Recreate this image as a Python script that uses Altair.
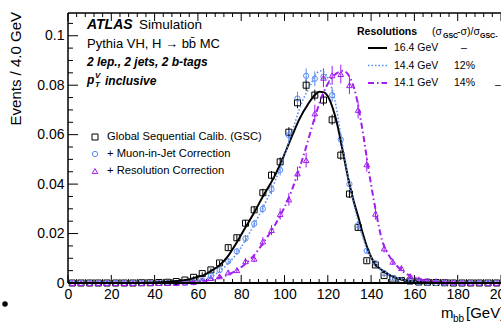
import altair as alt
import pandas as pd

FONT = "Liberation Sans"
X0, Y0 = 68, 13          # plot origin in page pixels
W, H = 433, 270
XMAX = 200
YMAX = 0.1092

BLACK = "#000000"
BLUE = "#5a8cf0"
PURPLE = "#a01ef0"

# ---------------- data ----------------
bins = [2, 6, 10, 14, 18, 22, 26, 30, 34, 38, 42, 46, 50, 54, 58, 62, 66, 70, 74, 78,
        82, 86, 90, 94, 98, 102, 106, 110, 114, 118, 122, 126, 130, 134, 138, 142, 146,
        150, 154, 158, 162, 166, 170, 174, 178, 182, 186, 190, 194, 198]

gsc = [0, 0, 0, 0, 0, 0, 0, 0,
       0.0001, 0.0001, 0.0002, 0.0003, 0.0006, 0.0012, 0.0023, 0.0038, 0.0053, 0.0081,
       0.0143, 0.0183, 0.0242, 0.0296, 0.0365, 0.0436, 0.0490, 0.0610, 0.0729, 0.0800,
       0.0760, 0.0740, 0.0660, 0.0517, 0.0360, 0.0225, 0.0090, 0.0073, 0.0030, 0.0016,
       0.0010, 0.0008, 0.0004, 0.0003, 0.0002, 0.0001,
       0, 0, 0, 0, 0, 0]
gsc_err = [0, 0, 0, 0, 0, 0, 0, 0, 0, 0, 0, 0,
           0.0002, 0.0003, 0.0004, 0.0005, 0.0006, 0.0008, 0.0010, 0.0011, 0.0013, 0.0014,
           0.0016, 0.0017, 0.0018, 0.0020, 0.0022, 0.0023, 0.0022, 0.0022, 0.0021, 0.0019,
           0.0016, 0.0012, 0.0008, 0.0007, 0.0004, 0.0003, 0.0002, 0.0002,
           0, 0, 0, 0, 0, 0, 0, 0, 0, 0]

muon = [0, 0, 0, 0, 0, 0, 0, 0, 0, 0, 0, 0, 0,
        0.0001, 0.0003, 0.0010, 0.0028, 0.0052, 0.0088, 0.0128, 0.0180, 0.0240, 0.0300,
        0.0379, 0.0457, 0.0598, 0.0746, 0.0838, 0.0826, 0.0835, 0.0760, 0.0580, 0.0400,
        0.0234, 0.0130, 0.0080, 0.0040, 0.0020, 0.0010, 0.0005, 0.0003, 0.0001,
        0, 0, 0, 0, 0, 0, 0, 0]
muon_err = [0, 0, 0, 0, 0, 0, 0, 0, 0, 0, 0, 0, 0,
            0.0001, 0.0002, 0.0004, 0.0006, 0.0008, 0.0010, 0.0012, 0.0014, 0.0016, 0.0018,
            0.0020, 0.0022, 0.0025, 0.0028, 0.0030, 0.0030, 0.0030, 0.0028, 0.0025, 0.0020,
            0.0016, 0.0012, 0.0009, 0.0006, 0.0004, 0.0003, 0.0002, 0.0001, 0.0001,
            0, 0, 0, 0, 0, 0, 0, 0]

reso = [0, 0, 0, 0, 0, 0, 0, 0, 0, 0, 0, 0, 0,
        0.0002, 0.0004, 0.0010, 0.0020, 0.0027, 0.0043, 0.0052, 0.0088, 0.0098, 0.0168,
        0.0214, 0.0279, 0.0338, 0.0443, 0.0497, 0.0686, 0.0830, 0.0840, 0.0845, 0.0800,
        0.0700, 0.0480, 0.0280, 0.0140, 0.0086, 0.0060, 0.0028, 0.0015, 0.0010, 0.0008,
        0.0005, 0.0003, 0.0002, 0.0001, 0.0001,
        0, 0]
reso_err = [0, 0, 0, 0, 0, 0, 0, 0, 0, 0, 0, 0, 0,
            0.0002, 0.0003, 0.0004, 0.0006, 0.0007, 0.0009, 0.0010, 0.0013, 0.0014, 0.0018,
            0.0020, 0.0023, 0.0025, 0.0028, 0.0030, 0.0035, 0.0038, 0.0038, 0.0038, 0.0036,
            0.0034, 0.0030, 0.0024, 0.0017, 0.0013, 0.0011, 0.0008, 0.0006, 0.0005, 0.0004,
            0.0003, 0.0002, 0.0002, 0.0001, 0.0001,
            0, 0]

# fitted curves
gsc_fit_x = [30, 40, 46, 50, 55, 60, 63, 66, 70, 74, 78, 82, 86, 90, 95, 99, 103, 107, 111,
             114, 116, 118, 120, 122, 124, 127, 130, 132, 134, 136, 138, 140, 142, 145, 148,
             151, 155, 160, 165, 170, 180]
gsc_fit_y = [0, 0.0002, 0.0005, 0.0008, 0.0013, 0.0025, 0.0033, 0.0048, 0.0072, 0.0110,
             0.0165, 0.0225, 0.0285, 0.0350, 0.0425, 0.0500, 0.0585, 0.0665, 0.0725, 0.0760,
             0.0773, 0.0772, 0.0755, 0.0715, 0.0655, 0.0530, 0.0400, 0.0330, 0.0270, 0.0205,
             0.0148, 0.0105, 0.0075, 0.0052, 0.0035, 0.0022, 0.0012, 0.0006, 0.0003, 0.0001, 0]

muon_fit_x = [40, 50, 56, 60, 64, 68, 72, 76, 80, 84, 88, 92, 96, 100, 104, 108, 112, 115,
              117, 119, 121, 123, 126, 128, 130, 132, 134, 136, 138, 140, 143, 146, 150, 155,
              160, 165, 170, 180]
muon_fit_y = [0, 0.0001, 0.0004, 0.0009, 0.0018, 0.0035, 0.0062, 0.0098, 0.0145, 0.0205,
              0.0270, 0.0340, 0.0420, 0.0515, 0.0625, 0.0730, 0.0800, 0.0850, 0.0858, 0.0845,
              0.0810, 0.0750, 0.0600, 0.0495, 0.0400, 0.0320, 0.0250, 0.0190, 0.0140, 0.0105,
              0.0070, 0.0047, 0.0027, 0.0013, 0.0006, 0.0002, 0.0001, 0]

reso_fit_x = [50, 55, 60, 66, 70, 74, 78, 82, 86, 90, 94, 98, 102, 106, 110, 114, 118, 121,
              124, 127, 130, 133, 136, 139, 142, 145, 148, 151, 155, 160, 165, 170, 175, 180, 190]
reso_fit_y = [0, 0.0002, 0.0006, 0.0013, 0.0022, 0.0034, 0.0052, 0.0078, 0.0113, 0.0160,
              0.0212, 0.0272, 0.0345, 0.0440, 0.0550, 0.0670, 0.0770, 0.0820, 0.0848, 0.0858,
              0.0835, 0.0760, 0.0620, 0.0450, 0.0300, 0.0175, 0.0115, 0.0078, 0.0045, 0.0022,
              0.0010, 0.0004, 0.0002, 0.0001, 0]

x_labels = [0, 20, 40, 60, 80, 100, 120, 140, 160, 180, 200]
y_labels = [0, 0.02, 0.04, 0.06, 0.08, 0.1]

legend_labels = ["Global Sequential Calib. (GSC)",
                 "\u00a0+ Muon-in-Jet Correction",
                 "\u00a0+ Resolution Correction"]
reso_values = ["16.4 GeV", "14.4 GeV", "14.1 GeV"]
reso_gain = ["\u2013", "12%", "14%"]

for arr in (gsc, gsc_err, muon, muon_err, reso, reso_err):
    assert len(arr) == len(bins), len(arr)

# ---------------- helpers ----------------
xs = alt.Scale(domain=[0, XMAX], nice=False, zero=False)
ys = alt.Scale(domain=[0, YMAX], nice=False, zero=False)
XA = alt.Axis(values=x_labels, ticks=False, tickSize=0, domain=False, grid=False, title=None,
              labelFont=FONT, labelFontSize=14, labelColor="black", labelPadding=4,
              labelFlush=False, labelOverlap=False)
YA = alt.Axis(values=y_labels, format="~g", ticks=False, tickSize=0, domain=False, grid=False,
              title=None, labelFont=FONT, labelFontSize=14, labelColor="black",
              labelPadding=4, labelFlush=False, labelOverlap=False)
one = pd.DataFrame({"a": [0]})


def X(f):
    return alt.X(f, scale=xs, axis=XA)


def Y(f):
    return alt.Y(f, scale=ys, axis=YA)


def px(ax):
    return alt.value(ax - X0)


def py(ay):
    return alt.value(ay - Y0)


def txt(s, ax, ay, size=13, weight="normal", style="normal", color="black",
        align="left", baseline="middle", angle=0):
    kw = dict(text=s, font=FONT, fontSize=size, fontWeight=weight, fontStyle=style,
              color=color, align=align, baseline=baseline)
    if angle:
        kw["angle"] = angle
    return alt.Chart(one).mark_text(**kw).encode(x=px(ax), y=py(ay))


def hline(ax1, ax2, ay, color="black", width=1.5, dash=None):
    kw = dict(color=color, strokeWidth=width)
    if dash:
        kw["strokeDash"] = dash
    return alt.Chart(one).mark_rule(**kw).encode(x=px(ax1), x2=px(ax2), y=py(ay))


def vline(ax, ay1, ay2, color="black", width=1.5):
    return alt.Chart(one).mark_rule(color=color, strokeWidth=width).encode(
        x=px(ax), y=py(ay1), y2=py(ay2))


# ---------------- ticks (ROOT style, pointing inwards) ----------------
x_major = pd.DataFrame({"x": list(range(0, 201, 20))})
x_minor = pd.DataFrame({"x": [v for v in range(0, 201, 4) if v % 20]})
y_major = pd.DataFrame({"y": y_labels})
y_minor = pd.DataFrame({"y": [round(v * 0.005, 3) for v in range(0, 22) if v % 4]})

tick_layers = []
for df, ln in ((x_major, 8), (x_minor, 4)):
    tick_layers.append(alt.Chart(df).mark_rule(color="black", strokeWidth=1).encode(
        x=X("x:Q"), y=alt.value(H), y2=alt.value(H - ln)))
    tick_layers.append(alt.Chart(df).mark_rule(color="black", strokeWidth=1).encode(
        x=X("x:Q"), y=alt.value(0), y2=alt.value(ln)))
for df, ln in ((y_major, 10), (y_minor, 5)):
    tick_layers.append(alt.Chart(df).mark_rule(color="black", strokeWidth=1).encode(
        y=Y("y:Q"), x=alt.value(0), x2=alt.value(ln)))

frame = [hline(X0, 501, Y0, width=1.5), hline(X0, 501, Y0 + H, width=1.8),
         vline(X0, Y0, Y0 + H, width=1.5)]


# ---------------- data layers ----------------
def series_df(vals, errs):
    return pd.DataFrame({"x": bins, "y": vals,
                         "lo": [v - e for v, e in zip(vals, errs)],
                         "hi": [v + e for v, e in zip(vals, errs)]})


def errbars(df, color):
    return alt.Chart(df).mark_rule(color=color, strokeWidth=1).encode(
        x=X("x:Q"), y=Y("lo:Q"), y2="hi:Q")


def markers(df, color, shape, size):
    return alt.Chart(df).mark_point(shape=shape, filled=False, color=color,
                                    strokeWidth=1, size=size, opacity=1).encode(
        x=X("x:Q"), y=Y("y:Q"))


def curve(xv, yv, color, width, dash=None):
    kw = dict(color=color, strokeWidth=width, interpolate="monotone")
    if dash:
        kw["strokeDash"] = dash
    return alt.Chart(pd.DataFrame({"x": xv, "y": yv})).mark_line(**kw).encode(
        x=X("x:Q"), y=Y("y:Q"))


d_gsc = series_df(gsc, gsc_err)
d_muon = series_df(muon, muon_err)
d_reso = series_df(reso, reso_err)

DOT = [1.5, 2]
DASHDOT = [6, 3, 1.5, 3]

data_layers = [
    errbars(d_gsc, BLACK), errbars(d_muon, BLUE), errbars(d_reso, PURPLE),
    markers(d_gsc, BLACK, "square", 36),
    markers(d_muon, BLUE, "circle", 28),
    markers(d_reso, PURPLE, "triangle-up", 32),
    curve(gsc_fit_x, gsc_fit_y, BLACK, 2),
    curve(muon_fit_x, muon_fit_y, BLUE, 1.6, DOT),
    curve(reso_fit_x, reso_fit_y, PURPLE, 2, DASHDOT),
]

# ---------------- texts & legends ----------------
texts = [
    txt("Events / 4.0 GeV", 16, 12, size=15, align="right", angle=270),
    txt("m", 441, 313, size=15),
    txt("bb", 453, 319, size=10),
    txt("[GeV]", 466, 313, size=15),
    txt("ATLAS", 87, 25, size=14, weight="bold", style="italic"),
    txt("Simulation", 139, 25, size=13.5),
    txt("Pythia VH, H \u2192 bb\u0304 MC", 87, 44, size=13),
    txt("2 lep., 2 jets, 2 b-tags", 87, 62, size=12, weight="bold", style="italic"),
    txt("p", 87, 80, size=12, weight="bold", style="italic"),
    txt("V", 95, 76, size=8, weight="bold", style="italic"),
    txt("T", 95, 85, size=8, weight="bold", style="italic"),
    txt("inclusive", 105, 81, size=12, weight="bold", style="italic"),
    txt("Resolutions", 357, 32, size=10.5, weight="bold"),
    txt("(\u03c3", 432, 32, size=10.5),
    txt("GSC", 443, 36, size=7, weight="bold"),
    txt("-\u03c3)/\u03c3", 457, 32, size=10.5),
    txt("GSC-", 480, 36, size=7, weight="bold"),
    txt("\u2013", 495, 85, size=10.5),
]
for i, (v, g) in enumerate(zip(reso_values, reso_gain)):
    yy = [48, 65.5, 83][i]
    texts.append(txt(v, 394, yy, size=10.5))
    texts.append(txt(g, 454 if i else 461, yy, size=10.5))

legend_lines = [
    hline(368, 387, 48, color=BLACK, width=2),
    hline(368, 387, 65.5, color=BLUE, width=1.6, dash=DOT),
    hline(368, 387, 83, color=PURPLE, width=2, dash=DASHDOT),
]

left_legend = []
for i, (lab, col, shp, sz) in enumerate(zip(
        legend_labels, [BLACK, BLUE, PURPLE], ["square", "circle", "triangle-up"], [36, 28, 32])):
    yy = [137, 154, 171][i]
    left_legend.append(alt.Chart(one).mark_point(shape=shp, filled=False, color=col,
                                                 strokeWidth=1, size=sz, opacity=1).encode(
        x=px(95), y=py(yy)))
    left_legend.append(txt(lab, 107, yy, size=11.2))

bullet = alt.Chart(one).mark_point(shape="circle", filled=True, color="black",
                                   size=30, opacity=1).encode(x=px(5), y=py(304))

chart = alt.layer(
    *tick_layers, *data_layers, *frame, *texts, *legend_lines, *left_legend, bullet
).properties(
    width=W, height=H,
    autosize=alt.AutoSizeParams(type="none"),
    padding={"left": X0, "top": Y0, "right": 0, "bottom": 322 - Y0 - H},
).configure_view(stroke=None)

chart.save("out.html", embed_options={"renderer": "svg", "actions": False})
